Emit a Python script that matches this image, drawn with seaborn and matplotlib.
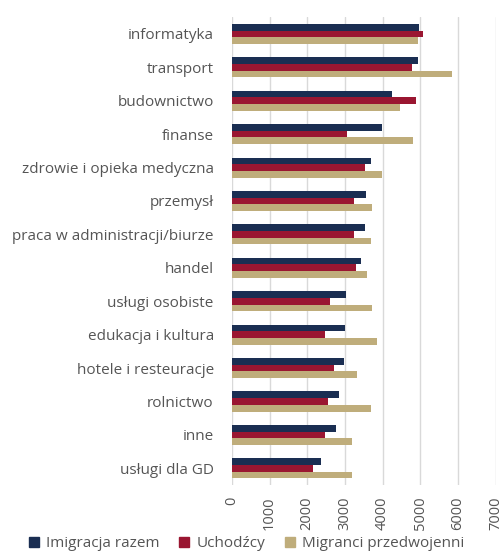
import matplotlib
matplotlib.use("Agg")
import matplotlib.pyplot as plt
import seaborn as sns
import pandas as pd
from matplotlib.lines import Line2D

categories = ["informatyka", "transport", "budownictwo", "finanse",
              "zdrowie i opieka medyczna", "przemysł",
              "praca w administracji/biurze", "handel", "usługi osobiste",
              "edukacja i kultura", "hotele i resteuracje", "rolnictwo",
              "inne", "usługi dla GD"]
series = ["Imigracja razem", "Uchodźcy", "Migranci przedwojenni"]
imigracja = [4970, 4940, 4250, 3975, 3700, 3560, 3525, 3436, 3040, 3000, 2977, 2845, 2765, 2376]
uchodzcy = [5060, 4790, 4890, 3050, 3540, 3233, 3233, 3286, 2615, 2475, 2712, 2560, 2475, 2155]
przedwojenni = [4940, 5850, 4470, 4805, 3985, 3710, 3690, 3595, 3720, 3860, 3320, 3684, 3180, 3200]
xticks = [0, 1000, 2000, 3000, 4000, 5000, 6000, 7000]
colors = ["#1a2e52", "#9a1631", "#bfad7b"]

df = pd.DataFrame({
    "kategoria": categories * 3,
    "seria": [series[0]] * len(categories) + [series[1]] * len(categories) + [series[2]] * len(categories),
    "wartosc": imigracja + uchodzcy + przedwojenni,
})

sns.set_style("white")
plt.rcParams["font.family"] = ["Open Sans", "DejaVu Sans"]
text_color = "#555555"

fig = plt.figure(figsize=(5.04, 5.54), dpi=100)
ax = fig.add_axes([0.46, 0.1245, 0.5235, 0.8445])

sns.barplot(data=df, y="kategoria", x="wartosc", hue="seria", order=categories,
            hue_order=series, palette=colors, orient="h", width=0.6,
            saturation=1, errorbar=None, ax=ax, legend=False, linewidth=0)

ax.set_xlim(0, 7000)
ax.set_ylim(len(categories) - 0.5, -0.5)
ax.set_xticks(xticks)
ax.set_xticklabels([str(t) for t in xticks], rotation=90, fontsize=10.5, color=text_color)
ax.tick_params(axis="y", labelsize=11, labelcolor=text_color, length=0, pad=13)
ax.tick_params(axis="x", length=0, pad=8)
ax.grid(axis="x", color="#d9d9d9", linewidth=1)
ax.set_axisbelow(True)
for s in ax.spines.values():
    s.set_visible(False)
ax.set_xlabel("")
ax.set_ylabel("")

handles = [Line2D([], [], marker="s", linestyle="none", markersize=7,
                  markerfacecolor=c, markeredgecolor=c) for c in colors]
fig.legend(handles, series, loc="lower center", bbox_to_anchor=(0.49, -0.02), ncol=3,
           frameon=False, fontsize=11, handlelength=0.6,
           handletextpad=0.5, columnspacing=1.3, labelcolor=text_color)

fig.savefig("out.png", dpi=100)
